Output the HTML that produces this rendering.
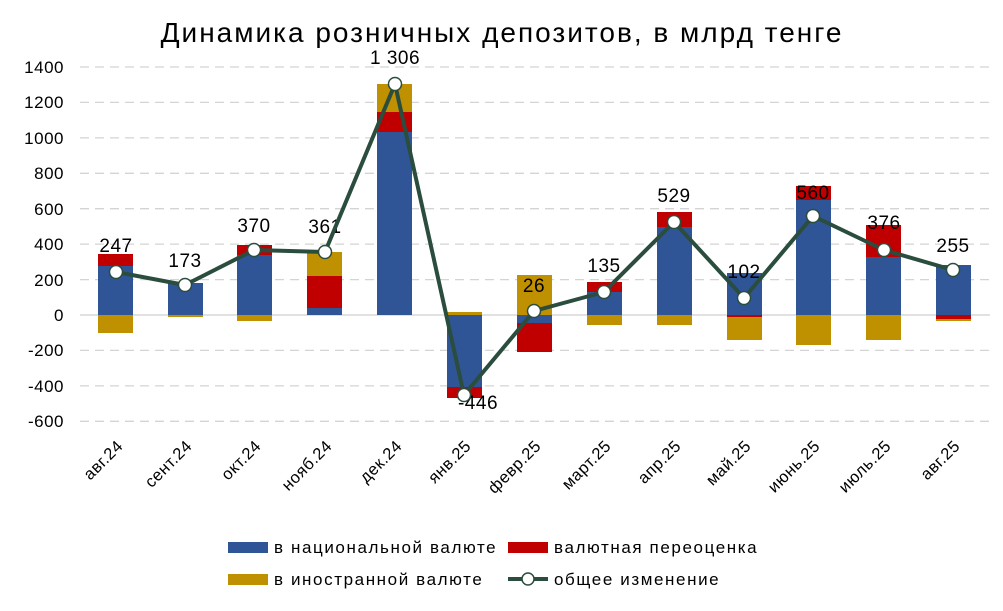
<!DOCTYPE html>
<html><head><meta charset="utf-8"><style>
body{margin:0;background:#fff;}
svg text{font-family:"Liberation Sans",sans-serif;fill:#000;}
</style></head><body>
<svg width="1003" height="606" viewBox="0 0 1003 606" xmlns="http://www.w3.org/2000/svg">
<text x="502" y="42" font-size="28" text-anchor="middle" letter-spacing="2">Динамика розничных депозитов, в млрд тенге</text>
<g stroke="#d4d4d4" stroke-width="1.3" stroke-dasharray="9,6">
<line x1="80" x2="990" y1="67" y2="67"/><line x1="80" x2="990" y1="102.4" y2="102.4"/>
<line x1="80" x2="990" y1="137.9" y2="137.9"/><line x1="80" x2="990" y1="173.3" y2="173.3"/>
<line x1="80" x2="990" y1="208.7" y2="208.7"/><line x1="80" x2="990" y1="244.1" y2="244.1"/>
<line x1="80" x2="990" y1="279.6" y2="279.6"/><line x1="80" x2="990" y1="350.4" y2="350.4"/>
<line x1="80" x2="990" y1="385.9" y2="385.9"/><line x1="80" x2="990" y1="421.3" y2="421.3"/>
</g>
<line x1="80" x2="990" y1="315" y2="315" stroke="#cfcfcf" stroke-width="1.3"/>
<g font-size="17" text-anchor="end" letter-spacing="0.5">
<text x="64" y="73">1400</text><text x="64" y="108">1200</text><text x="64" y="144">1000</text>
<text x="64" y="179">800</text><text x="64" y="215">600</text><text x="64" y="250">400</text>
<text x="64" y="286">200</text><text x="64" y="321">0</text><text x="64" y="356">-200</text>
<text x="64" y="392">-400</text><text x="64" y="427">-600</text>
</g>
<g>
<rect x="98" y="266" width="35" height="49" fill="#2f5597"/><rect x="98" y="254" width="35" height="12" fill="#c00000"/><rect x="98" y="315" width="35" height="18" fill="#bf9000"/>
<rect x="168" y="283" width="35" height="32" fill="#2f5597"/><rect x="168" y="315" width="35" height="2" fill="#bf9000"/>
<rect x="237" y="255" width="35" height="60" fill="#2f5597"/><rect x="237" y="245" width="35" height="10" fill="#c00000"/><rect x="237" y="315" width="35" height="6" fill="#bf9000"/>
<rect x="307" y="308" width="35" height="7" fill="#2f5597"/><rect x="307" y="276" width="35" height="32" fill="#c00000"/><rect x="307" y="252" width="35" height="24" fill="#bf9000"/>
<rect x="377" y="132" width="35" height="183" fill="#2f5597"/><rect x="377" y="112" width="35" height="20" fill="#c00000"/><rect x="377" y="84" width="35" height="28" fill="#bf9000"/>
<rect x="447" y="315" width="35" height="72" fill="#2f5597"/><rect x="447" y="387" width="35" height="11" fill="#c00000"/><rect x="447" y="312" width="35" height="3" fill="#bf9000"/>
<rect x="517" y="315" width="35" height="8" fill="#2f5597"/><rect x="517" y="323" width="35" height="29" fill="#c00000"/><rect x="517" y="275" width="35" height="40" fill="#bf9000"/>
<rect x="587" y="292" width="35" height="23" fill="#2f5597"/><rect x="587" y="282" width="35" height="10" fill="#c00000"/><rect x="587" y="315" width="35" height="10" fill="#bf9000"/>
<rect x="657" y="227" width="35" height="88" fill="#2f5597"/><rect x="657" y="212" width="35" height="15" fill="#c00000"/><rect x="657" y="315" width="35" height="10" fill="#bf9000"/>
<rect x="727" y="273" width="35" height="42" fill="#2f5597"/><rect x="727" y="315" width="35" height="2" fill="#c00000"/><rect x="727" y="317" width="35" height="23" fill="#bf9000"/>
<rect x="796" y="200" width="35" height="115" fill="#2f5597"/><rect x="796" y="186" width="35" height="14" fill="#c00000"/><rect x="796" y="315" width="35" height="30" fill="#bf9000"/>
<rect x="866" y="257" width="35" height="58" fill="#2f5597"/><rect x="866" y="225" width="35" height="32" fill="#c00000"/><rect x="866" y="315" width="35" height="25" fill="#bf9000"/>
<rect x="936" y="265" width="35" height="50" fill="#2f5597"/><rect x="936" y="315" width="35" height="4" fill="#c00000"/><rect x="936" y="319" width="35" height="2" fill="#bf9000"/>
</g>
<g font-size="19" text-anchor="middle" letter-spacing="0.5">
<text x="116" y="252">247</text><text x="185" y="267">173</text><text x="254" y="232">370</text>
<text x="325" y="233">361</text><text x="395" y="64">1 306</text><text x="478" y="409">-446</text>
<text x="534" y="292">26</text><text x="604" y="272">135</text><text x="674" y="202">529</text>
<text x="744" y="278">102</text><text x="813" y="199">560</text><text x="884" y="229">376</text>
<text x="953" y="252">255</text>
</g>
<polyline fill="none" stroke="#2a4d3e" stroke-width="4" stroke-linejoin="round" points="116,272 185,285 254,250 325,252 395,84 464,395 534,311 604,292 674,222 744,298 813,216 884,250 953,270"/>
<g fill="#fff" stroke="#2a4d3e" stroke-width="1.5">
<circle cx="116" cy="272" r="6.5"/><circle cx="185" cy="285" r="6.5"/><circle cx="254" cy="250" r="6.5"/>
<circle cx="325" cy="252" r="6.5"/><circle cx="395" cy="84" r="6.5"/><circle cx="464" cy="395" r="6.5"/>
<circle cx="534" cy="311" r="6.5"/><circle cx="604" cy="292" r="6.5"/><circle cx="674" cy="222" r="6.5"/>
<circle cx="744" cy="298" r="6.5"/><circle cx="813" cy="216" r="6.5"/><circle cx="884" cy="250" r="6.5"/>
<circle cx="953" cy="270" r="6.5"/>
</g>
<g font-size="16.5" text-anchor="end" letter-spacing="0.5">
<text transform="translate(124,447) rotate(-45)">авг.24</text>
<text transform="translate(193,447) rotate(-45)">сент.24</text>
<text transform="translate(262,447) rotate(-45)">окт.24</text>
<text transform="translate(333,447) rotate(-45)">нояб.24</text>
<text transform="translate(403,447) rotate(-45)">дек.24</text>
<text transform="translate(472,447) rotate(-45)">янв.25</text>
<text transform="translate(542,447) rotate(-45)">февр.25</text>
<text transform="translate(612,447) rotate(-45)">март.25</text>
<text transform="translate(682,447) rotate(-45)">апр.25</text>
<text transform="translate(752,447) rotate(-45)">май.25</text>
<text transform="translate(821,447) rotate(-45)">июнь.25</text>
<text transform="translate(892,447) rotate(-45)">июль.25</text>
<text transform="translate(961,447) rotate(-45)">авг.25</text>
</g>
<g font-size="17" letter-spacing="1.6">
<rect x="228" y="542" width="40" height="11" fill="#2f5597"/><text x="274" y="553">в национальной валюте</text>
<rect x="508" y="542" width="40" height="11" fill="#c00000"/><text x="554" y="553">валютная переоценка</text>
<rect x="228" y="574" width="40" height="11" fill="#bf9000"/><text x="274" y="585">в иностранной валюте</text>
<line x1="508" x2="548" y1="579" y2="579" stroke="#2a4d3e" stroke-width="4"/>
<circle cx="528" cy="579" r="6" fill="#fff" stroke="#2a4d3e" stroke-width="1.5"/>
<text x="554" y="585">общее изменение</text>
</g>
</svg>
</body></html>
